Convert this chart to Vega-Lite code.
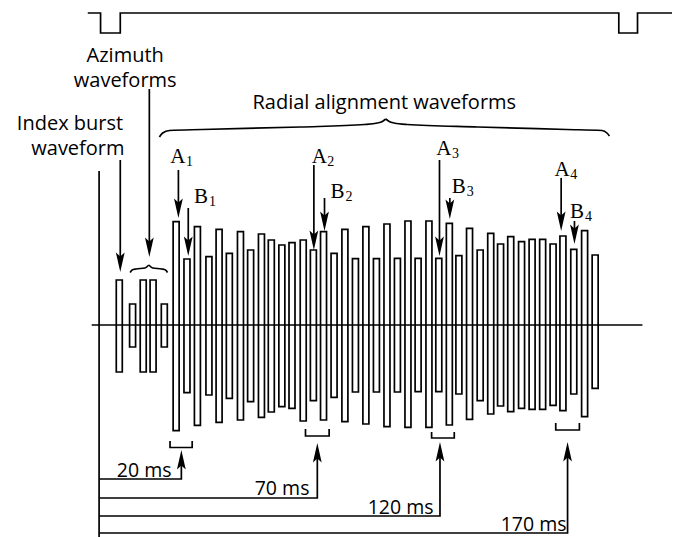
{
  "$schema": "https://vega.github.io/schema/vega-lite/v6.json",
  "width": 677,
  "height": 537,
  "padding": 0,
  "autosize": {"type": "none"},
  "background": "white",
  "config": {"view": {"stroke": null}},
  "datasets": {
    "bars": [
      {"x": 116, "top": 280, "bottom": 372, "group": "index"},
      {"x": 129.5, "top": 304, "bottom": 347, "group": "azimuth"},
      {"x": 140.3, "top": 280, "bottom": 372, "group": "azimuth"},
      {"x": 150.3, "top": 280, "bottom": 372, "group": "azimuth"},
      {"x": 161.7, "top": 304, "bottom": 347, "group": "azimuth"},
      {"x": 173.7, "top": 221.7, "bottom": 430.7, "group": "radial"},
      {"x": 184.7, "top": 259, "bottom": 392.7, "group": "radial"},
      {"x": 195.3, "top": 226.7, "bottom": 425.3, "group": "radial"},
      {"x": 207, "top": 256.7, "bottom": 395, "group": "radial"},
      {"x": 217.3, "top": 229.3, "bottom": 422.3, "group": "radial"},
      {"x": 227.7, "top": 253.3, "bottom": 398.3, "group": "radial"},
      {"x": 239, "top": 231.7, "bottom": 420, "group": "radial"},
      {"x": 249.3, "top": 250, "bottom": 401.7, "group": "radial"},
      {"x": 260.3, "top": 234, "bottom": 417.3, "group": "radial"},
      {"x": 270.3, "top": 240, "bottom": 412, "group": "radial"},
      {"x": 281, "top": 245, "bottom": 406.7, "group": "radial"},
      {"x": 291.3, "top": 242.7, "bottom": 408.3, "group": "radial"},
      {"x": 302.7, "top": 240, "bottom": 421, "group": "radial"},
      {"x": 313, "top": 250, "bottom": 400.7, "group": "radial"},
      {"x": 323.3, "top": 231.7, "bottom": 420, "group": "radial"},
      {"x": 334, "top": 253.3, "bottom": 397.3, "group": "radial"},
      {"x": 345, "top": 229.3, "bottom": 421.7, "group": "radial"},
      {"x": 355.7, "top": 258.7, "bottom": 392, "group": "radial"},
      {"x": 366.3, "top": 226.7, "bottom": 424, "group": "radial"},
      {"x": 377, "top": 258.7, "bottom": 392, "group": "radial"},
      {"x": 387.7, "top": 224, "bottom": 426.7, "group": "radial"},
      {"x": 398.3, "top": 258.3, "bottom": 392, "group": "radial"},
      {"x": 409, "top": 221, "bottom": 427.3, "group": "radial"},
      {"x": 419.3, "top": 258.3, "bottom": 391.7, "group": "radial"},
      {"x": 430.3, "top": 221, "bottom": 427.3, "group": "radial"},
      {"x": 440.3, "top": 258.3, "bottom": 391.7, "group": "radial"},
      {"x": 451, "top": 223.3, "bottom": 425, "group": "radial"},
      {"x": 460.7, "top": 255.7, "bottom": 394, "group": "radial"},
      {"x": 471.5, "top": 228.3, "bottom": 419.3, "group": "radial"},
      {"x": 482.3, "top": 250, "bottom": 400.7, "group": "radial"},
      {"x": 493, "top": 233.3, "bottom": 414, "group": "radial"},
      {"x": 503, "top": 244, "bottom": 406, "group": "radial"},
      {"x": 513.3, "top": 236.7, "bottom": 411.7, "group": "radial"},
      {"x": 524.3, "top": 241.7, "bottom": 408.3, "group": "radial"},
      {"x": 535, "top": 239.3, "bottom": 409.3, "group": "radial"},
      {"x": 545.7, "top": 239.3, "bottom": 409.3, "group": "radial"},
      {"x": 556.3, "top": 244, "bottom": 405.3, "group": "radial"},
      {"x": 566.3, "top": 236, "bottom": 410.7, "group": "radial"},
      {"x": 577.3, "top": 249.3, "bottom": 394, "group": "radial"},
      {"x": 588.3, "top": 230.7, "bottom": 416.7, "group": "radial"},
      {"x": 599, "top": 255, "bottom": 388.3, "group": "radial"}
    ],
    "paths": [
      {"id": "trace", "o": 1, "x": 84, "y": 13},
      {"id": "trace", "o": 2, "x": 97, "y": 13},
      {"id": "trace", "o": 3, "x": 97, "y": 33},
      {"id": "trace", "o": 4, "x": 117, "y": 33},
      {"id": "trace", "o": 5, "x": 117, "y": 13},
      {"id": "trace", "o": 6, "x": 623, "y": 13},
      {"id": "trace", "o": 7, "x": 623, "y": 33},
      {"id": "trace", "o": 8, "x": 642, "y": 33},
      {"id": "trace", "o": 9, "x": 642, "y": 13},
      {"id": "trace", "o": 10, "x": 677, "y": 13},
      {"id": "axis", "o": 1, "x": 88, "y": 325},
      {"id": "axis", "o": 2, "x": 647, "y": 325},
      {"id": "base", "o": 1, "x": 95.5, "y": 171},
      {"id": "base", "o": 2, "x": 95.5, "y": 537},
      {"id": "t20", "o": 1, "x": 95.5, "y": 479},
      {"id": "t20", "o": 2, "x": 179, "y": 479},
      {"id": "t20", "o": 3, "x": 179, "y": 458},
      {"id": "t70", "o": 1, "x": 95.5, "y": 498},
      {"id": "t70", "o": 2, "x": 317, "y": 498},
      {"id": "t70", "o": 3, "x": 317, "y": 451},
      {"id": "t120", "o": 1, "x": 95.5, "y": 516},
      {"id": "t120", "o": 2, "x": 441.5, "y": 516},
      {"id": "t120", "o": 3, "x": 441.5, "y": 450},
      {"id": "t170", "o": 1, "x": 95.5, "y": 533},
      {"id": "t170", "o": 2, "x": 571, "y": 533},
      {"id": "t170", "o": 3, "x": 571, "y": 450},
      {"id": "br1", "o": 1, "x": 167.5, "y": 441},
      {"id": "br1", "o": 2, "x": 167.5, "y": 447.5},
      {"id": "br1", "o": 3, "x": 190, "y": 447.5},
      {"id": "br1", "o": 4, "x": 190, "y": 441},
      {"id": "br2", "o": 1, "x": 305, "y": 429},
      {"id": "br2", "o": 2, "x": 305, "y": 436},
      {"id": "br2", "o": 3, "x": 329, "y": 436},
      {"id": "br2", "o": 4, "x": 329, "y": 429},
      {"id": "br3", "o": 1, "x": 433, "y": 432},
      {"id": "br3", "o": 2, "x": 433, "y": 438},
      {"id": "br3", "o": 3, "x": 456, "y": 438},
      {"id": "br3", "o": 4, "x": 456, "y": 432},
      {"id": "br4", "o": 1, "x": 559, "y": 423},
      {"id": "br4", "o": 2, "x": 559, "y": 430},
      {"id": "br4", "o": 3, "x": 583, "y": 430},
      {"id": "br4", "o": 4, "x": 583, "y": 423},
      {"id": "aIdx", "o": 1, "x": 117, "y": 160},
      {"id": "aIdx", "o": 2, "x": 117, "y": 260},
      {"id": "aAz", "o": 1, "x": 146.5, "y": 89},
      {"id": "aAz", "o": 2, "x": 146.5, "y": 245},
      {"id": "aA1", "o": 1, "x": 176, "y": 170},
      {"id": "aA1", "o": 2, "x": 176, "y": 206},
      {"id": "aB1", "o": 1, "x": 186, "y": 208},
      {"id": "aB1", "o": 2, "x": 186, "y": 244},
      {"id": "aA2", "o": 1, "x": 313.5, "y": 165},
      {"id": "aA2", "o": 2, "x": 313.5, "y": 238},
      {"id": "aB2", "o": 1, "x": 324.3, "y": 198},
      {"id": "aB2", "o": 2, "x": 324.3, "y": 219},
      {"id": "aA3", "o": 1, "x": 441, "y": 160},
      {"id": "aA3", "o": 2, "x": 441, "y": 244},
      {"id": "aB3", "o": 1, "x": 451.5, "y": 198},
      {"id": "aB3", "o": 2, "x": 451.5, "y": 209},
      {"id": "aA4", "o": 1, "x": 564.5, "y": 178},
      {"id": "aA4", "o": 2, "x": 564.5, "y": 219},
      {"id": "aB4", "o": 1, "x": 578, "y": 221},
      {"id": "aB4", "o": 2, "x": 578, "y": 234}
    ],
    "braces": [
      {"id": "bigL", "o": 1, "x": 156.7, "y": 137},
      {"id": "bigL", "o": 2, "x": 160, "y": 133},
      {"id": "bigL", "o": 3, "x": 167, "y": 130.5},
      {"id": "bigL", "o": 4, "x": 200, "y": 129.5},
      {"id": "bigL", "o": 5, "x": 300, "y": 127},
      {"id": "bigL", "o": 6, "x": 365, "y": 124.5},
      {"id": "bigL", "o": 7, "x": 378, "y": 123},
      {"id": "bigL", "o": 8, "x": 383, "y": 121.5},
      {"id": "bigL", "o": 9, "x": 386.5, "y": 119},
      {"id": "bigR", "o": 1, "x": 386.5, "y": 119},
      {"id": "bigR", "o": 2, "x": 390, "y": 121.5},
      {"id": "bigR", "o": 3, "x": 395, "y": 123},
      {"id": "bigR", "o": 4, "x": 408, "y": 124.5},
      {"id": "bigR", "o": 5, "x": 480, "y": 127},
      {"id": "bigR", "o": 6, "x": 570, "y": 129.5},
      {"id": "bigR", "o": 7, "x": 606, "y": 130.5},
      {"id": "bigR", "o": 8, "x": 611, "y": 133},
      {"id": "bigR", "o": 9, "x": 613.5, "y": 136},
      {"id": "smL", "o": 1, "x": 127, "y": 272.5},
      {"id": "smL", "o": 2, "x": 129, "y": 270},
      {"id": "smL", "o": 3, "x": 133, "y": 269},
      {"id": "smL", "o": 4, "x": 142, "y": 268},
      {"id": "smL", "o": 5, "x": 146, "y": 265},
      {"id": "smR", "o": 1, "x": 146, "y": 265},
      {"id": "smR", "o": 2, "x": 150, "y": 268},
      {"id": "smR", "o": 3, "x": 159, "y": 269},
      {"id": "smR", "o": 4, "x": 163, "y": 270},
      {"id": "smR", "o": 5, "x": 165, "y": 272.5}
    ],
    "heads": [
      {"name": "index", "dir": "down", "x": 117, "y": 272},
      {"name": "azimuth", "dir": "down", "x": 146.5, "y": 257},
      {"name": "A1", "dir": "down", "x": 176, "y": 218},
      {"name": "B1", "dir": "down", "x": 186, "y": 256},
      {"name": "A2", "dir": "down", "x": 313.5, "y": 250},
      {"name": "B2", "dir": "down", "x": 324.3, "y": 231},
      {"name": "A3", "dir": "down", "x": 441, "y": 256},
      {"name": "B3", "dir": "down", "x": 451.5, "y": 219},
      {"name": "A4", "dir": "down", "x": 564.5, "y": 231},
      {"name": "B4", "dir": "down", "x": 578, "y": 244},
      {"name": "20 ms", "dir": "up", "x": 179, "y": 450},
      {"name": "70 ms", "dir": "up", "x": 317, "y": 443},
      {"name": "120 ms", "dir": "up", "x": 441.5, "y": 442},
      {"name": "170 ms", "dir": "up", "x": 571, "y": 442}
    ],
    "labels": [
      {"text": "Azimuth", "x": 122, "y": 62},
      {"text": "waveforms", "x": 122, "y": 87},
      {"text": "Index burst", "x": 66, "y": 130},
      {"text": "waveform", "x": 74, "y": 155},
      {"text": "Radial alignment waveforms", "x": 385, "y": 109}
    ],
    "times": [
      {"text": "20 ms", "x": 169, "y": 477},
      {"text": "70 ms", "x": 309, "y": 495},
      {"text": "120 ms", "x": 435, "y": 514},
      {"text": "170 ms", "x": 570, "y": 531}
    ],
    "marks": [
      {"letter": "A", "sub": "1", "x": 175.5, "y": 163},
      {"letter": "B", "sub": "1", "x": 199, "y": 203},
      {"letter": "A", "sub": "2", "x": 319, "y": 163},
      {"letter": "B", "sub": "2", "x": 337.5, "y": 198},
      {"letter": "A", "sub": "3", "x": 445.5, "y": 155},
      {"letter": "B", "sub": "3", "x": 460.5, "y": 193},
      {"letter": "A", "sub": "4", "x": 565.5, "y": 176},
      {"letter": "B", "sub": "4", "x": 580.5, "y": 218}
    ]
  },
  "layer": [
    {
      "data": {"name": "bars"},
      "mark": {"type": "bar", "size": 6, "fill": "white", "fillOpacity": 0, "stroke": "black", "strokeWidth": 1.7},
      "encoding": {
        "x": {"field": "x", "type": "quantitative", "scale": {"domain": [0, 677], "nice": false, "zero": false}, "axis": null},
        "y": {"field": "top", "type": "quantitative", "scale": {"domain": [0, 537], "reverse": true, "nice": false, "zero": false}, "axis": null},
        "y2": {"field": "bottom"}
      }
    },
    {
      "data": {"name": "paths"},
      "mark": {"type": "line", "color": "black", "strokeWidth": 1.7, "strokeJoin": "miter"},
      "encoding": {
        "x": {"field": "x", "type": "quantitative", "axis": null},
        "y": {"field": "y", "type": "quantitative", "axis": null},
        "detail": {"field": "id", "type": "nominal"},
        "order": {"field": "o", "type": "quantitative"}
      }
    },
    {
      "data": {"name": "braces"},
      "mark": {"type": "line", "color": "black", "strokeWidth": 1.7, "interpolate": "monotone"},
      "encoding": {
        "x": {"field": "x", "type": "quantitative", "axis": null},
        "y": {"field": "y", "type": "quantitative", "axis": null},
        "detail": {"field": "id", "type": "nominal"},
        "order": {"field": "o", "type": "quantitative"}
      }
    },
    {
      "data": {"name": "heads"},
      "transform": [{"filter": "datum.dir === 'down'"}],
      "mark": {"type": "point", "shape": "M0,0 L-0.45,-2 L0,-1.6 L0.45,-2 Z", "size": 380, "filled": true, "color": "black", "opacity": 1, "strokeWidth": 0},
      "encoding": {
        "x": {"field": "x", "type": "quantitative", "axis": null},
        "y": {"field": "y", "type": "quantitative", "axis": null}
      }
    },
    {
      "data": {"name": "heads"},
      "transform": [{"filter": "datum.dir === 'up'"}],
      "mark": {"type": "point", "shape": "M0,0 L-0.45,2 L0,1.6 L0.45,2 Z", "size": 380, "filled": true, "color": "black", "opacity": 1, "strokeWidth": 0},
      "encoding": {
        "x": {"field": "x", "type": "quantitative", "axis": null},
        "y": {"field": "y", "type": "quantitative", "axis": null}
      }
    },
    {
      "data": {"name": "labels"},
      "mark": {"type": "text", "font": "Open Sans", "fontSize": 20, "align": "center", "baseline": "alphabetic", "color": "black"},
      "encoding": {
        "x": {"field": "x", "type": "quantitative", "axis": null},
        "y": {"field": "y", "type": "quantitative", "axis": null},
        "text": {"field": "text"}
      }
    },
    {
      "data": {"name": "times"},
      "mark": {"type": "text", "font": "Open Sans", "fontSize": 19.5, "align": "right", "baseline": "alphabetic", "color": "black"},
      "encoding": {
        "x": {"field": "x", "type": "quantitative", "axis": null},
        "y": {"field": "y", "type": "quantitative", "axis": null},
        "text": {"field": "text"}
      }
    },
    {
      "data": {"name": "marks"},
      "mark": {"type": "text", "font": "Liberation Serif", "fontSize": 21, "align": "center", "baseline": "alphabetic", "color": "black"},
      "encoding": {
        "x": {"field": "x", "type": "quantitative", "axis": null},
        "y": {"field": "y", "type": "quantitative", "axis": null},
        "text": {"field": "letter"}
      }
    },
    {
      "data": {"name": "marks"},
      "mark": {"type": "text", "font": "Liberation Serif", "fontSize": 14, "align": "left", "baseline": "alphabetic", "dx": 8, "dy": 3, "color": "black"},
      "encoding": {
        "x": {"field": "x", "type": "quantitative", "axis": null},
        "y": {"field": "y", "type": "quantitative", "axis": null},
        "text": {"field": "sub"}
      }
    }
  ]
}
